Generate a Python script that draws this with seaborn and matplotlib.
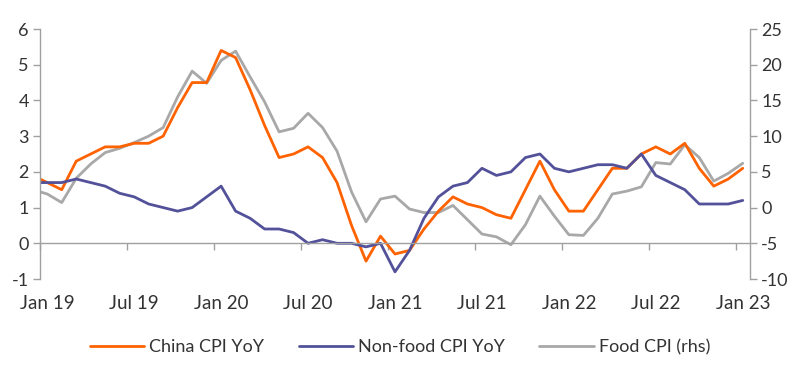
import matplotlib
matplotlib.use("Agg")
import matplotlib.pyplot as plt
from matplotlib.lines import Line2D
import seaborn as sns
import pandas as pd
import numpy as np

# Monthly data, Dec 2018 .. Jan 2023 (first point sits just left of the axis and is clipped)
months = pd.date_range("2018-12-01", "2023-01-01", freq="MS")
china_cpi = [1.9,
             1.7, 1.5, 2.3, 2.5, 2.7, 2.7, 2.8, 2.8, 3.0, 3.8, 4.5, 4.5,
             5.4, 5.2, 4.3, 3.3, 2.4, 2.5, 2.7, 2.4, 1.7, 0.5, -0.5, 0.2,
             -0.3, -0.2, 0.4, 0.9, 1.3, 1.1, 1.0, 0.8, 0.7, 1.5, 2.3, 1.5,
             0.9, 0.9, 1.5, 2.1, 2.1, 2.5, 2.7, 2.5, 2.8, 2.1, 1.6, 1.8,
             2.1]
nonfood_cpi = [1.7,
               1.7, 1.7, 1.8, 1.7, 1.6, 1.4, 1.3, 1.1, 1.0, 0.9, 1.0, 1.3,
               1.6, 0.9, 0.7, 0.4, 0.4, 0.3, 0.0, 0.1, 0.0, 0.0, -0.1, 0.0,
               -0.8, -0.2, 0.7, 1.3, 1.6, 1.7, 2.1, 1.9, 2.0, 2.4, 2.5, 2.1,
               2.0, 2.1, 2.2, 2.2, 2.1, 2.5, 1.9, 1.7, 1.5, 1.1, 1.1, 1.1,
               1.2]
food_cpi = [2.5,
            1.9, 0.7, 4.1, 6.1, 7.7, 8.3, 9.1, 10.0, 11.2, 15.5, 19.1, 17.4,
            20.6, 21.9, 18.3, 14.8, 10.6, 11.1, 13.2, 11.2, 7.9, 2.2, -2.0, 1.2,
            1.6, -0.2, -0.7, -0.7, 0.3, -1.7, -3.7, -4.1, -5.2, -2.4, 1.6, -1.2,
            -3.8, -3.9, -1.5, 1.9, 2.3, 2.9, 6.3, 6.1, 8.8, 7.0, 3.7, 4.8,
            6.2]
tick_labels = ["Jan 19", "Jul 19", "Jan 20", "Jul 20", "Jan 21",
               "Jul 21", "Jan 22", "Jul 22", "Jan 23"]
series_names = ["China CPI YoY", "Non-food CPI YoY", "Food CPI (rhs)"]

ORANGE = "#FF6200"
PURPLE = "#525199"
GREY = "#A8A8A8"
AXIS = "#A0A0A0"
TEXT = "#333333"

# month index (Jan 19 = 0), point placed at middle of its month
midx = np.array([(d.year - 2019) * 12 + d.month - 1 for d in months]) + 0.5

df_l = pd.DataFrame({
    "x": np.concatenate([midx, midx]),
    "value": china_cpi + nonfood_cpi,
    "series": [series_names[0]] * len(midx) + [series_names[1]] * len(midx),
})
df_r = pd.DataFrame({"x": midx, "value": food_cpi})

sns.set_theme(style="white")
plt.rcParams["font.family"] = ["Lato", "DejaVu Sans"]
plt.rcParams["axes.unicode_minus"] = False

fig = plt.figure(figsize=(8, 3.68), dpi=100)
ax = fig.add_axes([40 / 800, 1 - 279 / 368, 710 / 800, 250 / 368])
ax2 = ax.twinx()

lw = 2.0
sns.lineplot(data=df_r, x="x", y="value", ax=ax2, color=GREY, linewidth=lw, legend=False)
sns.lineplot(data=df_l, x="x", y="value", hue="series", ax=ax,
             palette={series_names[0]: ORANGE, series_names[1]: PURPLE},
             linewidth=lw, legend=False)
ax.set_zorder(ax2.get_zorder() + 1)
ax.patch.set_visible(False)

ax.set_xlim(0, 49)
ax.set_ylim(-1, 6)
ax2.set_ylim(-10, 25)
ax.set_yticks(range(-1, 7))
ax2.set_yticks(range(-10, 26, 5))
# tick marks at month boundaries, labels centred on the month
ax.set_xticks(range(0, 49, 6))
ax.set_xticklabels([])
ax.set_xticks(np.arange(0, 49, 6) + 0.5, minor=True)
ax.set_xticklabels(tick_labels, minor=True)
ax.set_xlabel("")
ax.set_ylabel("")
ax2.set_ylabel("")

for a in (ax, ax2):
    a.spines["top"].set_visible(False)
    a.spines["left"].set_color(AXIS)
    a.spines["right"].set_color(AXIS)
    a.spines["left"].set_linewidth(1.0)
    a.spines["right"].set_linewidth(1.0)
ax2.spines["bottom"].set_visible(False)
ax.spines["right"].set_visible(False)
ax2.spines["left"].set_visible(False)
ax.spines["bottom"].set_position(("data", 0))
ax.spines["bottom"].set_color(AXIS)
ax.spines["bottom"].set_linewidth(1.0)

ax.tick_params(axis="y", which="both", left=True, direction="out", length=5,
               width=1, color=AXIS, labelsize=13, labelcolor=TEXT, pad=3)
ax2.tick_params(axis="y", which="both", right=True, direction="out", length=5,
                width=1, color=AXIS, labelsize=13, labelcolor=TEXT, pad=3)
ax.tick_params(axis="x", which="major", bottom=True, direction="out", length=5,
               width=1, color=AXIS)
ax.tick_params(axis="x", which="minor", bottom=True, length=0,
               labelsize=13.5, labelcolor=TEXT, pad=37)

handles = [Line2D([], [], color=ORANGE, lw=lw),
           Line2D([], [], color=PURPLE, lw=lw),
           Line2D([], [], color=GREY, lw=lw)]
fig.legend(handles, series_names, loc="center", bbox_to_anchor=(0.5, 1 - 347 / 368),
           ncol=3, frameon=False, fontsize=13, handlelength=3.0, handletextpad=0.3,
           columnspacing=1.9, labelcolor=TEXT)

fig.savefig("out.png", dpi=100)
